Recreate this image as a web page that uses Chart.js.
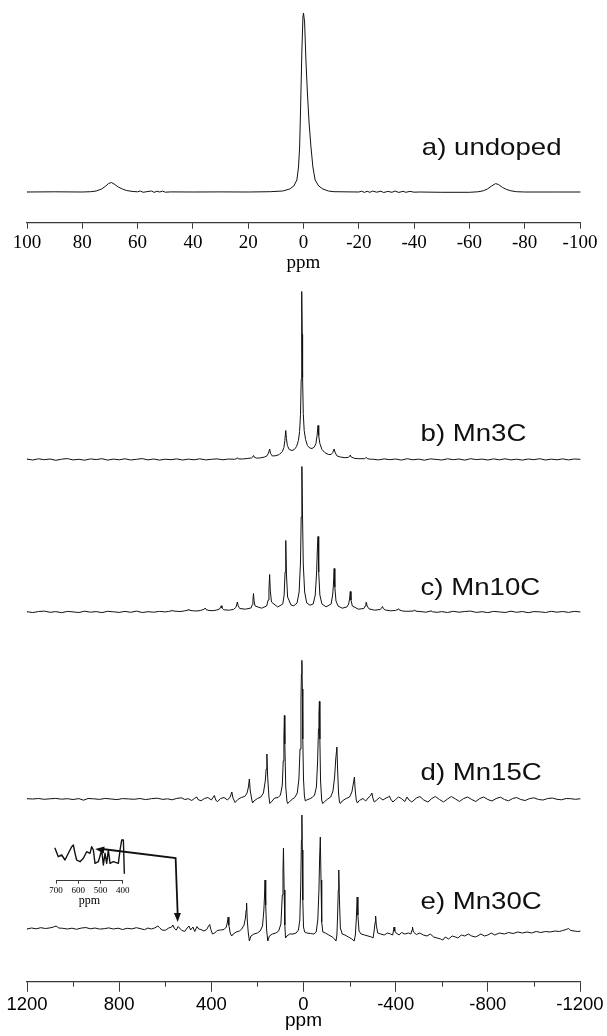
<!DOCTYPE html>
<html><head><meta charset="utf-8">
<script src="https://cdn.jsdelivr.net/npm/chart.js@4.4.1/dist/chart.umd.min.js"></script>
<style>
html,body{margin:0;padding:0;background:#fff;}
#wrap{position:relative;width:607px;height:1036px;overflow:hidden;background:#fff;}
canvas{position:absolute;left:0;}
#cMain{top:0;} #cTop{top:0;} #cInset{top:830px;}
</style></head><body>
<div id="wrap">
<canvas id="cMain" width="607" height="1036"></canvas>
<canvas id="cTop" width="607" height="278"></canvas>
<canvas id="cInset" width="150" height="78"></canvas>
</div>
<script>
// ---------------- DATA (ppm, intensity) ----------------
const topTicks = [100,80,60,40,20,0,-20,-40,-60,-80,-100];
const bottomTicks = [1200,800,400,0,-400,-800,-1200];
const bottomMinorTicks = [1000,600,200,-200,-600,-1000];
const insetTicks = [700,600,500,400];
const axisTitle = 'ppm';
const topLabel = 'a) undoped';
const panelLabels = ['b) Mn3C','c) Mn10C','d) Mn15C','e) Mn30C'];

const spectrumA = [[100,0],[90,0.2],[80,0],[77,0.3],[75,1],[73,3],[71.5,6],[70.5,8.5],[69.5,9.5],[68.5,8],[67,5],[65.5,3],[64,1.5],[62,0.6],[60,0.2],[59,1],[58,-0.3],[57,0.2],[55,1],[54,-0.4],[53,0.8],[52,0],[51,0.9],[50,-0.2],[48,0.1],[40,0],[30,0.1],[20,0],[12,0.3],[7.5,1],[5,3],[3.5,6],[2.4,12],[1.8,25],[1.4,45],[1,90],[0.6,140],[0.2,175],[0,179],[-0.4,170],[-0.9,130],[-1.4,100],[-2,70],[-2.7,45],[-3.4,25],[-4.2,12],[-5.5,6],[-7,3],[-9,1],[-11,0.3],[-20,0],[-21,0.8],[-22,-0.4],[-23,0.7],[-24,-0.3],[-25,0.9],[-26.5,-0.2],[-28,0.8],[-29,-0.5],[-30.5,0.6],[-32,-0.3],[-33,0.9],[-34.5,-0.4],[-36,0.7],[-37,-0.3],[-38.5,0.6],[-40,-0.2],[-42,0],[-50,-0.3],[-60,-0.3],[-63,0.2],[-65,1.2],[-66.5,3],[-68,6],[-69.5,8.4],[-70.5,7.5],[-72,4.5],[-73.5,2.5],[-75,1.2],[-77,0.3],[-80,0],[-90,0],[-100,0]];

const spectrumB = [[1200,0.4],[1175,-0.5],[1150,0.7],[1125,-0.2],[1100,0.5],[1075,-0.8],[1050,0.3],[1025,0.9],[1000,-0.4],[975,0.2],[950,-0.7],[925,0.6],[900,-0.1],[875,0.8],[850,-0.6],[825,0.4],[800,-0.3],[775,0.7],[750,-0.5],[725,0.2],[700,0.9],[675,-0.4],[650,0.5],[625,-0.6],[600,0.3],[575,-0.2],[550,0.6],[525,-0.5],[500,0.4],[475,-0.3],[450,0.7],[425,-0.4],[400,0.2],[375,0.6],[350,-0.3],[325,0.5],[300,0.2],
[290,0.8],[287,1.8],[283,0.6],[265,0.5],[245,1],[225,1.6],[220,2.6],[217,4],[214,2.4],[205,1.4],[190,1.5],[170,2.4],[158,3.8],[152,6.5],[147,10.5],[143,6],[135,3.5],[120,3.8],[105,5],[92,8],[85,12],[81,19],[77,29],[74,21],[70,14],[62,10],[50,9],[40,10],[30,13],[22,19],[17,28],[13,45],[10,80],[8.5,125],[7,168],[5.5,125],[4,82],[1,46],[-3,29],[-9,20],[-17,14],[-27,11.5],[-37,11],[-47,12.5],[-54,16],[-59,24],[-63,34],[-66,24],[-71,16],[-80,10],[-92,7],[-108,5],[-120,5],[-127,7],[-133,10.5],[-138,6.5],[-146,3.5],[-160,2.5],[-180,1.8],[-195,2.2],[-200,3],[-203,4.5],[-207,2.5],[-220,1.2],[-240,0.8],[-265,0.8],[-270,1.5],[-273,2.2],[-277,0.8],[-290,0.3],
[-300,0.3],[-325,-0.4],[-350,0.6],[-375,-0.2],[-400,0.5],[-425,-0.6],[-450,0.8],[-475,-0.3],[-500,0.4],[-525,-0.7],[-550,0.6],[-575,0.1],[-600,-0.5],[-625,0.7],[-650,-0.2],[-675,0.5],[-700,-0.6],[-725,0.8],[-750,-0.1],[-775,0.4],[-800,-0.5],[-825,0.6],[-850,-0.3],[-875,0.7],[-900,-0.4],[-925,0.3],[-950,-0.6],[-975,0.5],[-1000,-0.2],[-1025,0.8],[-1050,-0.5],[-1075,0.4],[-1100,-0.3],[-1125,0.6],[-1150,-0.4],[-1175,0.5],[-1200,0.2]];

const spectrumC = [[1200,0.3],[1175,-0.6],[1150,0.5],[1125,0.9],[1100,-0.3],[1075,0.4],[1050,-0.7],[1025,0.6],[1000,0.1],[975,-0.5],[950,0.8],[925,-0.2],[900,0.4],[875,-0.6],[850,0.7],[825,0.2],[800,-0.4],[775,0.6],[750,-0.3],[725,0.9],[700,-0.5],[675,0.3],[650,-0.2],[625,0.6],[600,0.1],
[585,0.6],[570,1.3],[567,1.8],[563,0.9],[545,0.6],[532,0.5],[515,1.2],[500,2],[497,2.6],[494,1.6],[478,1.2],[462,1],[448,1.5],[432,2.6],[427,4],[423,2.4],[410,1.5],[392,1.3],[378,1.9],[364,3],[360,4.8],[357,6.2],[354,4],[346,2.2],[322,1.8],[304,2.6],[294,4.5],[290,7],[287,10],[284,6.5],[277,3.5],[252,2.8],[228,4],[222,7.5],[219.5,12],[217,18.5],[214.5,11],[210,6],[182,3.8],[160,6],[153,12],[150,22],[147,37.5],[144,21],[139,10],[112,5],[90,8],[84,17],[80,40],[77,71.5],[74,38],[69,15],[54,7],[42,6.2],[28,9],[19,20],[13,50],[10,95],[7,145.5],[4,92],[1,48],[-5,20],[-14,9],[-28,6.8],[-42,8],[-51,17],[-57,40],[-60,62],[-63,75.5],[-66,40],[-71,17],[-80,8],[-98,5.2],[-120,8],[-127,18],[-130,28],[-133,43.5],[-136,25],[-141,11],[-150,6],[-168,3.8],[-188,5],[-196,8],[-200,13],[-203,20.5],[-206,12],[-212,6],[-238,2.8],[-262,3.5],[-268,6],[-271,9.5],[-273,9.5],[-276,6],[-284,3.2],[-308,1.8],[-332,2.5],[-338,3.6],[-343,5.5],[-346,3.5],[-355,2],[-378,1.2],[-400,1.6],[-410,2.6],[-413,3.2],[-416,2],[-430,1],[-448,0.7],[-475,0.9],[-483,1.8],[-488,0.8],[-510,0.4],[-530,-0.2],[-550,0.8],[-553,1.2],[-560,0.2],[-580,-0.3],
[-600,0.4],[-625,-0.5],[-650,0.7],[-675,-0.2],[-700,0.5],[-725,0.9],[-750,-0.4],[-775,0.3],[-800,-0.6],[-825,0.6],[-850,0.1],[-875,-0.5],[-900,0.8],[-925,-0.3],[-950,0.5],[-975,-0.7],[-1000,0.4],[-1025,0.2],[-1050,-0.5],[-1075,0.7],[-1100,-0.2],[-1125,0.5],[-1150,-0.4],[-1175,0.6],[-1200,0.1]];

const spectrumD = [[1200,0.3],[1175,0],[1150,0.5],[1125,-0.3],[1100,0.2],[1075,0.6],[1050,-0.2],[1025,0.3],[1000,-0.5],[975,0.4],[955,-1.2],[935,0.5],[910,0.2],[885,-0.4],[860,0.6],[835,0],[810,-0.6],[785,0.4],[760,0.1],[735,-0.3],[710,0.5],[685,-0.6],[660,0.3],[635,0.8],[610,-0.4],[590,0.2],[570,-0.8],[550,0.6],[530,1.2],[515,-0.5],[500,0.3],[485,-1.5],[472,0.8],[463,2],[458,-0.5],[445,-1.8],[430,0.5],[415,1.5],[400,-1],[387,3.5],[380,-1.5],[372,-2.5],[360,0.5],[345,1.5],[330,-1],[318,2],[311,7],[306,1],[297,-3.5],[285,-0.5],[270,1.5],[255,2.5],[245,6],[239,12],[235,20],[231,8],[224,-1],[221,-4],[215,-2],[200,0.5],[185,2],[174,6],[166,18],[162,30],[159,45],[156,24],[150,2],[146,-4.5],[140,-3],[125,1],[110,1.5],[100,4],[92,14],[88,38],[85,62],[83,83.5],[81,55],[77,12],[72,-2],[69,-4.5],[62,-3],[48,0],[38,1.5],[27,6],[20,20],[15,50],[11,100],[9,125],[7,138.6],[5,110],[3,60],[0,20],[-4,3],[-8,-2],[-14,-1],[-25,0],[-38,1.5],[-48,4],[-56,12],[-61,36],[-65,70],[-67,85],[-69,97.6],[-71,60],[-74,18],[-79,-1],[-83,-4.5],[-90,-3],[-105,0],[-118,2],[-128,8],[-135,22],[-140,40],[-145,52],[-148,30],[-152,6],[-156,-3],[-160,-4.5],[-168,-2],[-185,0.5],[-200,2],[-210,7],[-216,15],[-221,22],[-224,10],[-229,-1],[-234,-4],[-242,-1.5],[-258,0.5],[-270,-2],[-280,1],[-290,3],[-297,6],[-301,1],[-307,-3],[-318,-1],[-330,1.5],[-345,-1],[-358,1],[-368,2],[-373,3],[-378,0],[-388,-3],[-400,-0.5],[-412,2],[-425,0.5],[-440,-2.5],[-449,2],[-458,-1],
[-470,-3],[-490,1],[-505,2.5],[-522,-1],[-540,-3],[-557,0.5],[-572,2.5],[-590,-0.5],[-608,-3],[-625,0],[-642,2.5],[-660,0],[-677,-2.5],[-695,0.5],[-712,2],[-730,-0.5],[-748,-2.5],[-765,0.5],[-782,2],[-800,-0.5],[-818,-2],[-836,0.5],[-855,1.8],[-872,-0.5],[-890,-1.8],[-908,0.5],[-925,1.5],[-943,-0.5],[-962,-1.5],[-980,0.3],[-1000,1.2],[-1020,-0.5],[-1040,-1],[-1060,0.5],[-1080,1],[-1100,-0.3],[-1120,-0.8],[-1140,0.5],[-1160,0.3],[-1180,-0.3],[-1200,0.2]];

const spectrumE = [[1200,1],[1180,2],[1160,1.2],[1140,2.3],[1120,1.5],[1100,2.1],[1085,3],[1074,4],[1062,2],[1045,1.7],[1025,1],[1005,1.8],[985,0.7],[965,1.9],[945,2.5],[925,1.2],[905,2],[885,0.9],[865,1.3],[845,2.1],[825,1],[805,1.8],[785,0.5],[765,1.7],[745,1.1],[725,2.3],[705,1.2],[690,0.3],[675,2],[660,1],[645,2.1],[632,4],[625,2.5],[615,0],[600,-0.3],[585,2],[572,3],[567,5],[560,1.5],[552,0],[544,3.5],[538,2],[528,-0.5],[515,-1.3],[505,2],[497,4],[490,0],[480,3],[472,-1.5],[462,3.5],[455,1],[445,0.5],[432,-1],[420,0.5],[412,4],[407,5.5],[402,0.5],[395,-4],[385,-3],[375,-0.5],[360,0],[345,0.5],[335,3],[330,8],[327,13],[324,5],[318,-3],[312,-6],[305,-4],[292,-2],[278,-1],[268,1],[258,5],[252,12],[249,20],[247,27],[244,10],[240,-2],[235,-11],[228,-6],[215,-4],[200,-3],[188,-1],[178,4],[172,20],[169,35],[167,50],[164,25],[160,0],[155,-11],[148,-6],[135,-4],[120,-3],[108,-1],[98,6],[92,35],[89,60],[87,82],[84,40],[81,5],[78,-8],[72,-6],[60,-4],[45,-4],[32,-3],[22,0],[16,10],[12,45],[9,90],[7,115],[5,80],[3,30],[0,3],[-5,-2],[-15,-3],[-30,-3.5],[-45,-4],[-55,-2],[-62,10],[-67,40],[-70,72],[-73,93],[-76,50],[-79,8],[-84,-2],[-95,-3],[-110,-5],[-125,-7],[-135,-9],[-141,-11],[-145,-5],[-148,15],[-151,40],[-153,60],[-156,30],[-160,2],[-168,-4],[-180,-5],[-195,-7],[-210,-9],[-220,-11],[-225,-5],[-229,10],[-233,33],[-236,15],[-241,-1],[-250,-4],[-265,-5],[-280,-6],[-295,-7],[-302,-8],[-307,0],[-311,8],[-313,14],[-316,5],[-322,-3],[-335,-4],[-350,-5],[-365,-3],[-378,-4],[-387,-5],[-391,0],[-393,3],[-396,-1],[-402,-3],[-415,-5],[-425,-2.5],[-440,-4],[-455,-3],[-466,-4],[-471,0],[-473,3],[-477,-2],[-490,-4.5],[-505,-3],[-520,-5],[-536,-6],[-550,-4],[-565,-7],[-580,-8],[-595,-9],[-605,-10],[-615,-7],[-630,-9],[-645,-6],[-660,-7],[-670,-8],[-685,-5],[-700,-6],[-715,-4],[-730,-6],[-745,-7],[-755,-6],[-770,-4],[-785,-6],[-800,-5],[-815,-3],[-830,-5],[-850,-3],[-872,-4],[-890,-2.5],[-910,-3.5],[-930,-2],[-950,-3],[-970,-2],[-990,-3],[-1010,-1.5],[-1030,-2.5],[-1050,-1.5],[-1070,-2],[-1092,-1],[-1110,-1.5],[-1125,-0.5],[-1140,0.5],[-1150,1.5],[-1160,-0.5],[-1175,-1],[-1190,-1.5],[-1200,-1.2]];

const spectrumInset = [[704.5,32.4],[689.6,24],[674.4,25.7],[659.5,20.7],[644.6,27.4],[629.4,34],[622,35.7],[614.5,27.4],[607,20.7],[592,19],[577,22.4],[562,29],[547,27.4],[539.4,34],[532,30.7],[524.5,17.4],[509.6,19],[494.4,30.7],[487,15.7],[479.5,27.4],[472,17.4],[464.6,30.7],[457,17.4],[442,19],[419.6,17.4],[412,30.7],[404.5,40.7],[397,40.7],[392.6,7.4]];

// arrow path in Mn30C panel units: bottom tip, corner, left tip
const arrowPath = [[546,8],[555,72],[904,81]];

// ---------------- LAYOUT / STYLE ----------------
const SANS = '"Liberation Sans", Arial, sans-serif';
const SERIF = '"Liberation Serif", "Times New Roman", serif';
const INK = '#111';
const AXIS = '#3a3a3a';
const labelPpm = -508;                 // x anchor of panel labels (b-e)
const labelLift = [18.5, 17, 19, 21];  // label baseline height above each spectrum baseline
const labelAxes = ['yB','yC','yD','yE'];

function drawStretchedText(ctx, text, x, y, size) {
  ctx.save();
  ctx.font = size + 'px ' + SANS;
  ctx.fillStyle = INK;
  ctx.textAlign = 'left';
  ctx.textBaseline = 'alphabetic';
  ctx.translate(x, y);
  ctx.scale(1.15, 1);
  ctx.fillText(text, 0, 0);
  ctx.restore();
}
function drawHead(ctx, tip, from, len, half) {
  const dx = tip[0]-from[0], dy = tip[1]-from[1];
  const L = Math.hypot(dx, dy) || 1;
  const ux = dx/L, uy = dy/L;
  const bx = tip[0]-ux*len, by = tip[1]-uy*len;
  ctx.beginPath();
  ctx.moveTo(tip[0], tip[1]);
  ctx.lineTo(bx - uy*half, by + ux*half);
  ctx.lineTo(bx + uy*half, by - ux*half);
  ctx.closePath();
  ctx.fill();
}
function lineDs(data, yAxisID, width) {
  return { data, yAxisID, xAxisID: 'x', showLine: true, borderColor: INK, borderWidth: width || 1,
    borderJoinStyle: 'round', borderCapStyle: 'round',
    pointRadius: 0, pointHoverRadius: 0, tension: 0, clip: false, fill: false };
}

Chart.defaults.animation = false;
Chart.defaults.events = [];

// ---------------- TOP CHART (a) ----------------
new Chart(document.getElementById('cTop'), {
  type: 'scatter',
  data: { datasets: [ lineDs(spectrumA, 'y', 1) ] },
  options: {
    responsive: false, devicePixelRatio: 1,
    layout: { padding: { left: 27, right: 27, top: 0, bottom: 0 } },
    plugins: { legend: { display: false }, tooltip: { enabled: false } },
    scales: {
      x: {
        type: 'linear', reverse: true, min: -100, max: 100,
        afterBuildTicks: s => { s.ticks = topTicks.map(v => ({ value: v })); },
        afterFit: s => { s.height = 55.3; },
        border: { display: true, color: AXIS, width: 1.2 },
        grid: { drawOnChartArea: false, drawTicks: true, tickLength: 6, tickColor: AXIS, tickWidth: 1 },
        ticks: { autoSkip: false, maxRotation: 0, padding: 3, color: '#000',
          font: { family: SERIF, size: 19 }, callback: v => String(v) },
        title: { display: true, text: axisTitle, color: '#000', font: { family: SERIF, size: 19 },
          padding: { top: 0, bottom: 4 } }
      },
      y: { type: 'linear', display: false, min: -30.7, max: 192 }
    }
  },
  plugins: [{
    id: 'topLabel',
    afterDatasetsDraw(chart) {
      const x = chart.scales.x.getPixelForValue(-42.8);
      const y = chart.scales.y.getPixelForValue(37);
      drawStretchedText(chart.ctx, topLabel, x, y, 24);
    }
  }]
});

// ---------------- MAIN CHART (b-e) ----------------
new Chart(document.getElementById('cMain'), {
  type: 'scatter',
  data: { datasets: [
    lineDs(spectrumB, 'yB', 1),
    lineDs(spectrumC, 'yC', 1),
    lineDs(spectrumD, 'yD', 1),
    lineDs(spectrumE, 'yE', 1)
  ] },
  options: {
    responsive: false, devicePixelRatio: 1,
    layout: { padding: { left: 27, right: 27, top: 285, bottom: 0 } },
    plugins: { legend: { display: false }, tooltip: { enabled: false } },
    scales: {
      x: {
        type: 'linear', reverse: true, min: -1200, max: 1200,
        afterBuildTicks: s => { s.ticks = bottomTicks.concat(bottomMinorTicks).sort((a,b)=>a-b).map(v => ({ value: v })); },
        afterFit: s => { s.height = 54.3; },
        border: { display: true, color: AXIS, width: 1.2 },
        grid: { drawOnChartArea: false, drawTicks: true, tickLength: 10, tickWidth: 1,
          tickColor: c => (c.tick && bottomTicks.includes(c.tick.value)) ? AXIS : 'rgba(0,0,0,0)' },
        ticks: { autoSkip: false, maxRotation: 0, padding: 2, color: '#000',
          font: { family: SANS, size: 18.5 },
          callback: v => bottomTicks.includes(v) ? String(v) : '' },
        title: { display: true, text: axisTitle, color: '#000', font: { family: SANS, size: 19 },
          padding: { top: 0, bottom: 4 } }
      },
      yB: { type: 'linear', display: false, position: 'left', stack: 'sp', stackWeight: 180, weight: 4, min: -5.5, max: 174.5 },
      yC: { type: 'linear', display: false, position: 'left', stack: 'sp', stackWeight: 180, weight: 3, min: -33, max: 147 },
      yD: { type: 'linear', display: false, position: 'left', stack: 'sp', stackWeight: 160, weight: 2, min: -6, max: 154 },
      yE: { type: 'linear', display: false, position: 'left', stack: 'sp', stackWeight: 176.7, weight: 1, min: -51.7, max: 125 }
    }
  },
  plugins: [{
    id: 'decor',
    afterDraw(chart) {
      const ctx = chart.ctx, xs = chart.scales.x;
      // minor ticks
      ctx.save();
      ctx.strokeStyle = AXIS; ctx.lineWidth = 1;
      bottomMinorTicks.forEach(v => {
        const px = Math.round(xs.getPixelForValue(v)) + 0.5;
        ctx.beginPath(); ctx.moveTo(px, xs.top); ctx.lineTo(px, xs.top + 5); ctx.stroke();
      });
      ctx.restore();
      // panel labels
      panelLabels.forEach((t, i) => {
        const ys = chart.scales[labelAxes[i]];
        drawStretchedText(ctx, t, xs.getPixelForValue(labelPpm), ys.getPixelForValue(labelLift[i]), 24);
      });
      // arrow
      const ye = chart.scales.yE;
      const pts = arrowPath.map(([p, v]) => [xs.getPixelForValue(p), ye.getPixelForValue(v)]);
      ctx.save();
      ctx.strokeStyle = INK; ctx.fillStyle = INK; ctx.lineWidth = 1.8;
      ctx.beginPath();
      ctx.moveTo(pts[0][0], pts[0][1] - 7);
      ctx.lineTo(pts[1][0], pts[1][1]);
      ctx.lineTo(pts[2][0] + 7, pts[2][1]);
      ctx.stroke();
      drawHead(ctx, pts[0], pts[1], 9, 3.5);
      drawHead(ctx, pts[2], pts[1], 9, 3.5);
      ctx.restore();
    }
  }]
});

// ---------------- INSET ----------------
new Chart(document.getElementById('cInset'), {
  type: 'scatter',
  data: { datasets: [ lineDs(spectrumInset, 'y', 1.4) ] },
  options: {
    responsive: false, devicePixelRatio: 1,
    layout: { padding: { left: 56, right: 27.3, top: 10, bottom: 0 } },
    plugins: { legend: { display: false }, tooltip: { enabled: false } },
    scales: {
      x: {
        type: 'linear', reverse: true, min: 400, max: 700,
        afterBuildTicks: s => { s.ticks = insetTicks.map(v => ({ value: v })); },
        afterFit: s => { s.height = 27.3; },
        border: { display: true, color: AXIS, width: 1 },
        grid: { drawOnChartArea: false, drawTicks: true, tickLength: 3, tickColor: AXIS, tickWidth: 1 },
        ticks: { autoSkip: false, maxRotation: 0, padding: 2, color: '#000',
          font: { family: SERIF, size: 9 }, callback: v => String(v) },
        title: { display: true, text: axisTitle, color: '#000', font: { family: SERIF, size: 12 },
          padding: { top: 0, bottom: 0 } }
      },
      y: { type: 'linear', display: false, min: 0, max: 40.7 }
    }
  }
});
</script>
</body></html>
